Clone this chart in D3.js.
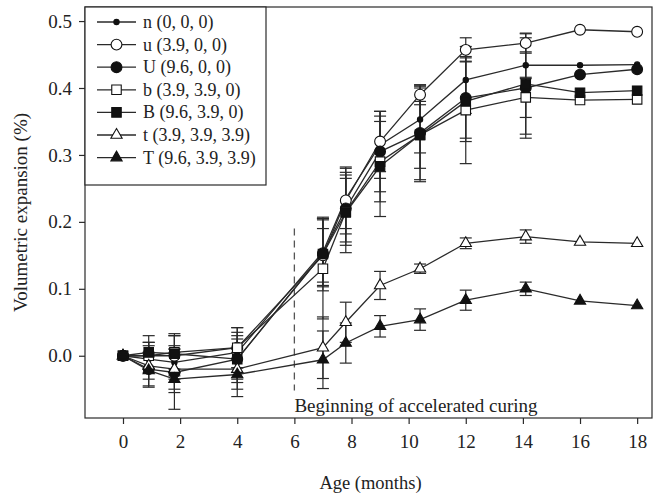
<!DOCTYPE html>
<html>
<head>
<meta charset="utf-8">
<script src="https://cdn.jsdelivr.net/npm/d3@7"></script>
<style>
  body { margin: 0; background: #fff; }
  text { font-family: "Liberation Serif", "DejaVu Serif", serif; fill: #222; }
</style>
</head>
<body>
<svg width="657" height="496"></svg>
<script>
// months at which the specimens were measured
const months = [0, 0.9, 1.8, 4, 7, 7.8, 9, 10.4, 12, 14.1, 16, 18];

const seriesLabels = ['n (0, 0, 0)', 'u (3.9, 0, 0)', 'U (9.6, 0, 0)', 'b (3.9, 3.9, 0)',
  'B (9.6, 3.9, 0)', 't (3.9, 3.9, 3.9)', 'T (9.6, 3.9, 3.9)'];

const nVals = [0, -0.005, -0.01, 0.005, 0.155, 0.235, 0.315, 0.353, 0.412, 0.434, 0.434, 0.435];
const uVals = [0, 0.0, 0.0, 0.012, 0.15, 0.232, 0.32, 0.39, 0.457, 0.467, 0.487, 0.484];
const UVals = [0, -0.02, -0.025, -0.005, 0.153, 0.22, 0.305, 0.333, 0.385, 0.40, 0.42, 0.428];
const bVals = [0, 0.0, 0.005, 0.012, 0.13, 0.215, 0.29, 0.33, 0.367, 0.386, 0.382, 0.383];
const BVals = [0, 0.005, 0.003, -0.005, 0.152, 0.214, 0.283, 0.33, 0.38, 0.406, 0.393, 0.396];
const tVals = [0, -0.015, -0.02, -0.02, 0.012, 0.05, 0.105, 0.13, 0.168, 0.178, 0.17, 0.168];
const TVals = [0, -0.022, -0.035, -0.028, -0.006, 0.019, 0.044, 0.054, 0.083, 0.10, 0.082, 0.075];

// half-lengths of the error bars
const nErr = [0, 0.02, 0.025, 0.03, 0.05, 0.045, 0.05, 0.05, 0.05, 0.02, 0, 0];
const uErr = [0, 0.02, 0.03, 0.03, 0.04, 0.05, 0.045, 0.015, 0.018, 0.015, 0, 0];
const UErr = [0, 0.025, 0.03, 0.035, 0.05, 0.05, 0.06, 0.07, 0.06, 0.075, 0, 0];
const bErr = [0, 0.02, 0.025, 0.03, 0.075, 0.05, 0.06, 0.07, 0.08, 0.03, 0, 0];
const BErr = [0, 0.025, 0.03, 0.03, 0.055, 0.06, 0.075, 0.05, 0.06, 0.075, 0, 0];
const tErr = [0, 0.02, 0.03, 0.03, 0.046, 0.03, 0.021, 0.007, 0.008, 0.01, 0, 0];
const TErr = [0, 0.025, 0.045, 0.033, 0.043, 0.03, 0.016, 0.016, 0.015, 0.01, 0, 0];

const xTicks = [0, 2, 4, 6, 8, 10, 12, 14, 16, 18];
const yTicks = [0.0, 0.1, 0.2, 0.3, 0.4, 0.5];

const series = [
  { label: seriesLabels[0], values: nVals, err: nErr, shape: 'dot' },
  { label: seriesLabels[1], values: uVals, err: uErr, shape: 'circle', open: true },
  { label: seriesLabels[2], values: UVals, err: UErr, shape: 'circle' },
  { label: seriesLabels[3], values: bVals, err: bErr, shape: 'square', open: true },
  { label: seriesLabels[4], values: BVals, err: BErr, shape: 'square' },
  { label: seriesLabels[5], values: tVals, err: tErr, shape: 'triangle', open: true },
  { label: seriesLabels[6], values: TVals, err: TErr, shape: 'triangle' }
];

const svg = d3.select('svg');
const plot = { left: 85, right: 652, top: 7, bottom: 418 };
const ink = '#2a2a2a';

const xScale = d3.scaleLinear().domain([-1.33, 18.52]).range([plot.left, plot.right]);
const yScale = d3.scaleLinear().domain([-0.093, 0.521]).range([plot.bottom, plot.top]);

// marker shapes
const symbolPath = shape => {
  if (shape === 'dot') return d3.symbol(d3.symbolCircle, 22)();
  if (shape === 'circle') return d3.symbol(d3.symbolCircle, 92)();
  if (shape === 'square') return d3.symbol(d3.symbolSquare, 90)();
  return d3.symbol(d3.symbolTriangle, 55)();
};

// frame
svg.append('rect')
  .attr('x', plot.left).attr('y', plot.top)
  .attr('width', plot.right - plot.left).attr('height', plot.bottom - plot.top)
  .attr('fill', 'none').attr('stroke', ink).attr('stroke-width', 1.2);

// x axis
const xAxisG = svg.append('g')
  .attr('transform', `translate(0,${plot.bottom})`)
  .call(d3.axisBottom(xScale).tickValues(xTicks).tickSize(6).tickPadding(11));
xAxisG.select('.domain').remove();
xAxisG.selectAll('line').attr('stroke', ink).attr('stroke-width', 1.2);
xAxisG.selectAll('text').attr('font-size', 19).attr('fill', '#222')
  .style('font-family', '"Liberation Serif", serif');

// y axis
const yAxisG = svg.append('g')
  .attr('transform', `translate(${plot.left},0)`)
  .call(d3.axisLeft(yScale).tickValues(yTicks).tickFormat(d3.format('.1f')).tickSize(6).tickPadding(7));
yAxisG.select('.domain').remove();
yAxisG.selectAll('line').attr('stroke', ink).attr('stroke-width', 1.2);
yAxisG.selectAll('text').attr('font-size', 19).attr('fill', '#222')
  .style('font-family', '"Liberation Serif", serif');

// axis titles
svg.append('text')
  .text('Age (months)')
  .attr('x', (plot.left + plot.right) / 2 + 2).attr('y', 489)
  .attr('text-anchor', 'middle').attr('font-size', 18.5);

svg.append('text')
  .text('Volumetric expansion (%)')
  .attr('transform', `translate(27,${(plot.top + plot.bottom) / 2}) rotate(-90)`)
  .attr('text-anchor', 'middle').attr('font-size', 19);

// start of accelerated curing
svg.append('line')
  .attr('x1', xScale(6)).attr('x2', xScale(6))
  .attr('y1', yScale(0.19)).attr('y2', yScale(-0.052))
  .attr('stroke', '#555').attr('stroke-width', 1.3).attr('stroke-dasharray', '7,5');

svg.append('text')
  .text('Beginning of accelerated curing')
  .attr('x', xScale(6)).attr('y', yScale(-0.084))
  .attr('font-size', 19);

// error bars
const capHalf = 6;
series.forEach(s => {
  const g = svg.append('g');
  months.forEach((m, i) => {
    const e = s.err[i];
    if (!e) return;
    const cx = xScale(m);
    const top = yScale(s.values[i] + e);
    const bot = yScale(s.values[i] - e);
    g.append('line').attr('x1', cx).attr('x2', cx).attr('y1', top).attr('y2', bot)
      .attr('stroke', ink).attr('stroke-width', 1.2);
    [top, bot].forEach(yy => {
      g.append('line').attr('x1', cx - capHalf).attr('x2', cx + capHalf).attr('y1', yy).attr('y2', yy)
        .attr('stroke', ink).attr('stroke-width', 1.2);
    });
  });
});

// lines
const line = d3.line()
  .x((d, i) => xScale(months[i]))
  .y(d => yScale(d));

series.forEach(s => {
  svg.append('path')
    .attr('d', line(s.values))
    .attr('fill', 'none').attr('stroke', ink).attr('stroke-width', 1.3);
});

// markers
series.forEach(s => {
  svg.append('g').selectAll('path')
    .data(s.values)
    .enter()
    .append('path')
    .attr('d', symbolPath(s.shape))
    .attr('transform', (d, i) => `translate(${xScale(months[i])},${yScale(d)})`)
    .attr('fill', s.open ? '#fff' : '#111')
    .attr('stroke', '#111').attr('stroke-width', 1.1);
});

// legend
const legend = svg.append('g');
legend.append('rect')
  .attr('x', plot.left).attr('y', plot.top)
  .attr('width', 181).attr('height', 178)
  .attr('fill', '#fff').attr('stroke', ink).attr('stroke-width', 1.2);

series.forEach((s, i) => {
  const ly = 22 + i * 22.6;
  legend.append('line')
    .attr('x1', 97).attr('x2', 136).attr('y1', ly).attr('y2', ly)
    .attr('stroke', ink).attr('stroke-width', 1.3);
  legend.append('path')
    .attr('d', symbolPath(s.shape))
    .attr('transform', `translate(116.5,${ly})`)
    .attr('fill', s.open ? '#fff' : '#111')
    .attr('stroke', '#111').attr('stroke-width', 1.1);
  legend.append('text')
    .text(s.label)
    .attr('x', 143).attr('y', ly + 6)
    .attr('font-size', 18);
});
</script>
</body>
</html>
